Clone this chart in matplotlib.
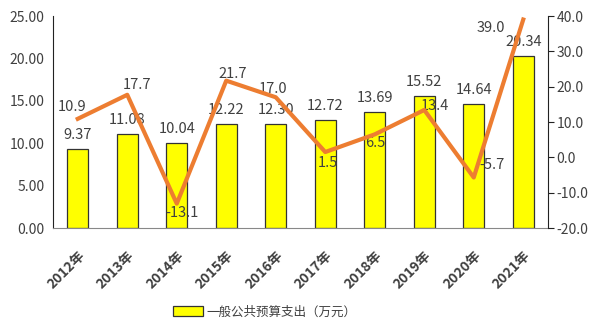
import matplotlib
matplotlib.use("Agg")
import matplotlib.pyplot as plt
from matplotlib.transforms import ScaledTranslation

plt.rcParams['font.family'] = ['Noto Sans CJK SC', 'DejaVu Sans']

# data
years = ['2012年', '2013年', '2014年', '2015年', '2016年',
         '2017年', '2018年', '2019年', '2020年', '2021年']
spend = [9.37, 11.08, 10.04, 12.22, 12.30, 12.72, 13.69, 15.52, 14.64, 20.34]
growth = [10.9, 17.7, -13.1, 21.7, 17.0, 1.5, 6.5, 13.4, -5.7, 39.0]

# label offsets for the growth line, in pixels (dx, dy)
growth_offsets = [(-6, 12), (10, 10), (5, -9), (6, 7), (-3, 8),
                  (3, -11), (0, -9), (11, 4), (18, 12), (-32, -8)]

TXT = '#404040'

fig = plt.figure(figsize=(6.0, 3.33), dpi=100)
ax = fig.add_axes([53 / 600, 1 - 228 / 333, (548 - 53) / 600, (228 - 16) / 333])
x = range(len(years))

ax.bar(x, spend, width=0.42, color='#FFFF00', edgecolor='#333333', lw=0.9,
       label='一般公共预算支出（万元）', zorder=2)
for xi, v in zip(x, spend):
    ax.annotate(f'{v:.2f}', (xi, v), xytext=(0, 7), textcoords='offset pixels',
                ha='center', va='bottom', fontsize=10.5, color=TXT, zorder=3)

ax.set_ylim(0, 25)
ax.set_yticks([0, 5, 10, 15, 20, 25])
ax.set_yticklabels([f'{t:.2f}' for t in [0, 5, 10, 15, 20, 25]])
ax.set_xlim(-0.5, len(years) - 0.5)
ax.set_xticks(list(x))
ax.set_xticklabels(years, rotation=45, ha='right', rotation_mode='anchor',
                   fontsize=10, fontweight='bold', color=TXT)
shift = ScaledTranslation(4 / 100, 0, fig.dpi_scale_trans)
for lab in ax.get_xticklabels():
    lab.set_transform(lab.get_transform() + shift)
ax.tick_params(axis='y', length=0, labelsize=10, labelcolor=TXT, pad=6)
ax.tick_params(axis='x', length=0, pad=15)
ax.spines['top'].set_visible(False)
ax.spines['right'].set_visible(False)
ax.spines['left'].set_color('#222222')
ax.spines['bottom'].set_color('#888888')

ax2 = ax.twinx()
ax2.plot(list(x), growth, color='#ED7D31', lw=3, zorder=4)
for xi, v, (dx, dy) in zip(x, growth, growth_offsets):
    ax2.annotate(f'{v:.1f}', (xi, v), xytext=(dx, dy), textcoords='offset pixels',
                 ha='center', va='center', fontsize=10.5, color=TXT)
ax2.set_ylim(-20, 40)
ax2.set_yticks(range(-20, 41, 10))
ax2.set_yticklabels([f'{t:.1f}' for t in range(-20, 41, 10)])
ax2.tick_params(axis='y', length=4, color='#222222', labelsize=10,
                labelcolor=TXT, pad=2)
ax2.spines['top'].set_visible(False)
ax2.spines['left'].set_visible(False)
ax2.spines['bottom'].set_visible(False)
ax2.spines['right'].set_color('#222222')

ax.legend(loc='center', bbox_to_anchor=(265 / 600, 1 - 312 / 333),
          bbox_transform=fig.transFigure, frameon=False, fontsize=9,
          handlelength=2.4, handleheight=0.9, handletextpad=0.3,
          labelcolor=TXT)

fig.savefig('out.png', dpi=100)
